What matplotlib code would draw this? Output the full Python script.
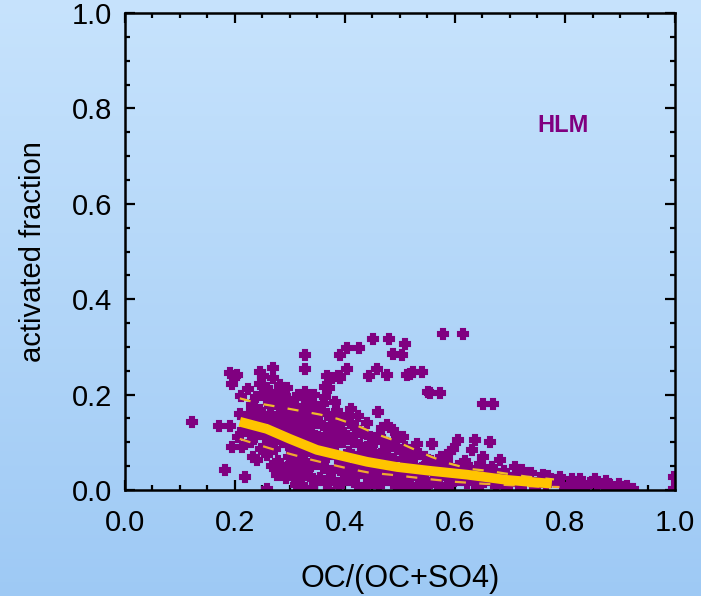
import numpy as np
import matplotlib.pyplot as plt
from matplotlib.ticker import MultipleLocator

# Scatter data: OC/(OC+SO4) and activated fraction
oc_frac = [
    0.122, 0.171, 0.191, 0.182, 0.195, 0.195, 0.200, 0.192,
    0.204, 0.209, 0.213, 0.218, 0.224, 0.231, 0.236, 0.240, 0.245, 0.245, 0.227, 0.220,
    0.214, 0.230, 0.242, 0.248, 0.233, 0.205, 0.226, 0.238, 0.212, 0.246,
    0.251, 0.258, 0.258, 0.258, 0.258, 0.269, 0.269, 0.276, 0.282, 0.282, 0.295, 0.263,
    0.255, 0.262, 0.270, 0.280, 0.285, 0.290, 0.265, 0.275, 0.288, 0.292, 0.296, 0.285,
    0.273, 0.262, 0.252, 0.278, 0.287, 0.298, 0.293, 0.268, 0.283, 0.299, 0.272, 0.297,
    0.289, 0.266,
    0.305, 0.310, 0.318, 0.325, 0.332, 0.340, 0.345, 0.303, 0.312, 0.322, 0.335, 0.348,
    0.306, 0.316, 0.328, 0.340, 0.300, 0.310, 0.320, 0.333, 0.345, 0.305, 0.318, 0.330,
    0.342, 0.302, 0.315, 0.327, 0.338, 0.349, 0.308, 0.322, 0.336, 0.346, 0.312, 0.328,
    0.315, 0.327, 0.344, 0.336,
    0.327, 0.327, 0.371, 0.376, 0.391, 0.391, 0.404, 0.425, 0.404, 0.444, 0.458, 0.476,
    0.451, 0.480, 0.487, 0.504, 0.509, 0.513, 0.524, 0.540, 0.555, 0.573, 0.578, 0.615,
    0.651, 0.669, 0.364, 0.368, 0.387, 0.518, 0.551,
    0.352, 0.360, 0.368, 0.375, 0.385, 0.395, 0.355, 0.365, 0.378, 0.390, 0.398, 0.352,
    0.362, 0.372, 0.384, 0.396, 0.356, 0.368, 0.380, 0.392, 0.360, 0.372, 0.385, 0.397,
    0.354, 0.366, 0.378, 0.390, 0.364, 0.382,
    0.405, 0.410, 0.420, 0.432, 0.445, 0.403, 0.415, 0.427, 0.440, 0.408, 0.418, 0.430,
    0.442, 0.404, 0.414, 0.426, 0.438, 0.448, 0.410, 0.422, 0.435, 0.446, 0.423, 0.440,
    0.412, 0.460, 0.476,
    0.455, 0.462, 0.470, 0.482, 0.495, 0.452, 0.465, 0.478, 0.490, 0.458, 0.470, 0.484,
    0.497, 0.452, 0.464, 0.476, 0.488, 0.499, 0.462, 0.488, 0.468, 0.497,
    0.505, 0.531, 0.510, 0.520, 0.535, 0.545, 0.505, 0.515, 0.528, 0.540, 0.550, 0.508,
    0.520, 0.533, 0.545, 0.512, 0.525, 0.540, 0.548,
    0.558, 0.591, 0.596, 0.556, 0.565, 0.578, 0.590, 0.560, 0.572, 0.585, 0.598, 0.555,
    0.568, 0.580, 0.593, 0.575,
    0.605, 0.636, 0.631, 0.664, 0.651, 0.682, 0.605, 0.615, 0.628, 0.640, 0.655, 0.610,
    0.622, 0.636, 0.648, 0.660, 0.672, 0.685, 0.695, 0.618, 0.645, 0.668, 0.690, 0.700,
    0.709, 0.722, 0.760, 0.791, 0.813, 0.855, 0.858, 0.882, 0.905, 0.924,
    0.710, 0.725, 0.738, 0.750, 0.765, 0.780, 0.795, 0.720, 0.745, 0.770,
    0.805, 0.820, 0.835, 0.845, 0.870, 0.875, 0.890, 0.898, 0.912, 0.918, 0.828,
    0.998, 0.998,
    0.235, 0.250, 0.262, 0.277, 0.285, 0.268, 0.300, 0.255, 0.243,
    0.325, 0.352, 0.375, 0.388, 0.402, 0.418, 0.433, 0.450, 0.455, 0.340, 0.372, 0.398,
    0.420, 0.435, 0.310, 0.303, 0.365, 0.382, 0.350, 0.330,
    0.475, 0.490, 0.505, 0.520, 0.535, 0.552, 0.565, 0.585, 0.470, 0.485, 0.500, 0.510,
    0.545, 0.625, 0.640, 0.655, 0.675, 0.700, 0.712, 0.602,
]
act_frac = [
    0.143, 0.135, 0.135, 0.042, 0.090, 0.223, 0.238, 0.245,
    0.242, 0.160, 0.090, 0.027, 0.211, 0.179, 0.112, 0.063, 0.223, 0.248, 0.117, 0.150,
    0.125, 0.100, 0.140, 0.085, 0.070, 0.110, 0.160, 0.195, 0.197, 0.168,
    0.238, 0.213, 0.196, 0.074, 0.002, 0.255, 0.234, 0.032, 0.221, 0.196, 0.213, 0.176,
    0.150, 0.120, 0.110, 0.140, 0.170, 0.150, 0.160, 0.180, 0.185, 0.120, 0.095, 0.100,
    0.085, 0.095, 0.130, 0.060, 0.045, 0.070, 0.025, 0.050, 0.125, 0.165, 0.140, 0.190,
    0.205, 0.200,
    0.185, 0.170, 0.160, 0.175, 0.190, 0.180, 0.165, 0.150, 0.140, 0.145, 0.150, 0.140,
    0.125, 0.115, 0.125, 0.120, 0.105, 0.095, 0.100, 0.105, 0.095, 0.080, 0.075, 0.085,
    0.075, 0.055, 0.050, 0.060, 0.050, 0.055, 0.030, 0.025, 0.030, 0.015, 0.010, 0.005,
    0.200, 0.205, 0.200, 0.135,
    0.284, 0.253, 0.213, 0.234, 0.234, 0.284, 0.297, 0.297, 0.253, 0.238, 0.253, 0.240,
    0.316, 0.316, 0.286, 0.284, 0.305, 0.242, 0.248, 0.248, 0.204, 0.204, 0.326, 0.328,
    0.181, 0.181, 0.215, 0.238, 0.238, 0.244, 0.206,
    0.170, 0.180, 0.160, 0.150, 0.165, 0.150, 0.140, 0.130, 0.125, 0.135, 0.120, 0.110,
    0.100, 0.105, 0.095, 0.100, 0.080, 0.070, 0.075, 0.065, 0.050, 0.040, 0.045, 0.035,
    0.025, 0.015, 0.020, 0.008, 0.195, 0.185,
    0.150, 0.140, 0.130, 0.120, 0.110, 0.110, 0.100, 0.095, 0.090, 0.080, 0.070, 0.065,
    0.060, 0.050, 0.040, 0.035, 0.030, 0.040, 0.020, 0.010, 0.005, 0.015, 0.155, 0.140,
    0.170, 0.164, 0.137,
    0.100, 0.115, 0.105, 0.095, 0.085, 0.080, 0.075, 0.070, 0.065, 0.055, 0.050, 0.045,
    0.040, 0.030, 0.025, 0.020, 0.015, 0.005, 0.008, 0.125, 0.130, 0.110,
    0.112, 0.097, 0.090, 0.080, 0.075, 0.070, 0.065, 0.055, 0.050, 0.045, 0.055, 0.035,
    0.030, 0.025, 0.020, 0.012, 0.005, 0.008, 0.035,
    0.097, 0.080, 0.086, 0.060, 0.050, 0.055, 0.045, 0.035, 0.030, 0.025, 0.030, 0.015,
    0.010, 0.005, 0.012, 0.070,
    0.105, 0.105, 0.084, 0.101, 0.069, 0.063, 0.050, 0.040, 0.045, 0.035, 0.040, 0.020,
    0.015, 0.020, 0.010, 0.020, 0.030, 0.015, 0.005, 0.060, 0.055, 0.048, 0.040, 0.025,
    0.048, 0.042, 0.032, 0.027, 0.023, 0.023, 0.011, 0.011, 0.006, 0.002,
    0.030, 0.020, 0.035, 0.015, 0.010, 0.020, 0.010, 0.005, 0.000, 0.030,
    0.005, 0.012, 0.005, 0.015, 0.008, 0.018, 0.003, 0.012, 0.008, 0.000, 0.022,
    0.027, 0.002,
    0.150, 0.200, 0.185, 0.205, 0.158, 0.125, 0.135, 0.110, 0.125,
    0.040, 0.060, 0.090, 0.115, 0.065, 0.115, 0.080, 0.065, 0.045, 0.005, 0.000, 0.020,
    0.050, 0.050, 0.065, 0.040, 0.115, 0.140, 0.155, 0.165,
    0.085, 0.100, 0.045, 0.065, 0.040, 0.042, 0.020, 0.060, 0.035, 0.030, 0.020, 0.075,
    0.005, 0.030, 0.005, 0.030, 0.008, 0.012, 0.018, 0.035,
]

# fitted curve and its spread
fit_x = [0.209, 0.258, 0.300, 0.349, 0.385, 0.440, 0.495, 0.555, 0.622, 0.694, 0.776]
fit_y = [0.143, 0.128, 0.107, 0.084, 0.074, 0.059, 0.048, 0.040, 0.032, 0.021, 0.013]
upper_x = [0.209, 0.245, 0.280, 0.318, 0.355, 0.387, 0.422, 0.455, 0.487, 0.524,
           0.558, 0.591, 0.627, 0.660, 0.694, 0.730, 0.780]
upper_y = [0.192, 0.181, 0.174, 0.166, 0.158, 0.149, 0.135, 0.118, 0.105, 0.086,
           0.069, 0.055, 0.044, 0.040, 0.034, 0.028, 0.022]
lower_x = [0.209, 0.236, 0.267, 0.305, 0.340, 0.376, 0.409, 0.445, 0.482, 0.520,
           0.558, 0.600, 0.650, 0.700, 0.750, 0.790]
lower_y = [0.107, 0.097, 0.086, 0.074, 0.063, 0.053, 0.044, 0.036, 0.032, 0.027,
           0.022, 0.017, 0.013, 0.010, 0.007, 0.006]

plt.rcParams['font.family'] = ['Liberation Sans', 'DejaVu Sans']

fig = plt.figure(figsize=(7.01, 5.96), dpi=100)

# light blue gradient backdrop
bg = fig.add_axes([0, 0, 1, 1], zorder=-10)
grad = np.linspace(0, 1, 256)[:, None]
top_col = np.array([0.78, 0.89, 0.99])
bot_col = np.array([0.62, 0.79, 0.96])
img = top_col[None, None, :] * (1 - grad[..., None]) + bot_col[None, None, :] * grad[..., None]
bg.imshow(img, aspect='auto', extent=[0, 1, 0, 1])
bg.axis('off')

ax = fig.add_axes([0.178, 0.178, 0.785, 0.800])
ax.set_facecolor('none')

ax.plot(oc_frac, act_frac, linestyle='none', marker='P', markersize=6.5,
        color='#800080', markeredgecolor='#800080', markeredgewidth=1.5)
ax.plot(upper_x, upper_y, color='#f0bb2a', lw=1.6, dashes=(5, 6))
ax.plot(lower_x, lower_y, color='#f0a830', lw=1.6, dashes=(5, 6))
ax.plot(fit_x, fit_y, color='#ffc400', lw=7, solid_capstyle='butt')

ax.text(0.796, 0.765, 'HLM', color='#800080', fontsize=17, fontweight='bold',
        ha='center', va='center')

ax.set_xlim(0, 1)
ax.set_ylim(0, 1)
ax.xaxis.set_major_locator(MultipleLocator(0.2))
ax.yaxis.set_major_locator(MultipleLocator(0.2))
ax.xaxis.set_minor_locator(MultipleLocator(0.05))
ax.yaxis.set_minor_locator(MultipleLocator(0.05))
ax.xaxis.set_major_formatter(lambda v, p: f"{v:.1f}")
ax.yaxis.set_major_formatter(lambda v, p: f"{v:.1f}")
ax.tick_params(which='both', direction='in', top=True, right=True, width=1.6, color='black')
ax.tick_params(which='major', length=7, labelsize=21)
ax.tick_params(which='minor', length=3.5)
ax.tick_params(axis='x', which='major', pad=14)
ax.tick_params(axis='y', which='major', pad=9)
for s in ax.spines.values():
    s.set_linewidth(1.8)

ax.set_xlabel('OC/(OC+SO4)', fontsize=22, labelpad=19)
ax.set_ylabel('activated fraction', fontsize=21, labelpad=18)

fig.savefig('out.png', dpi=100)
